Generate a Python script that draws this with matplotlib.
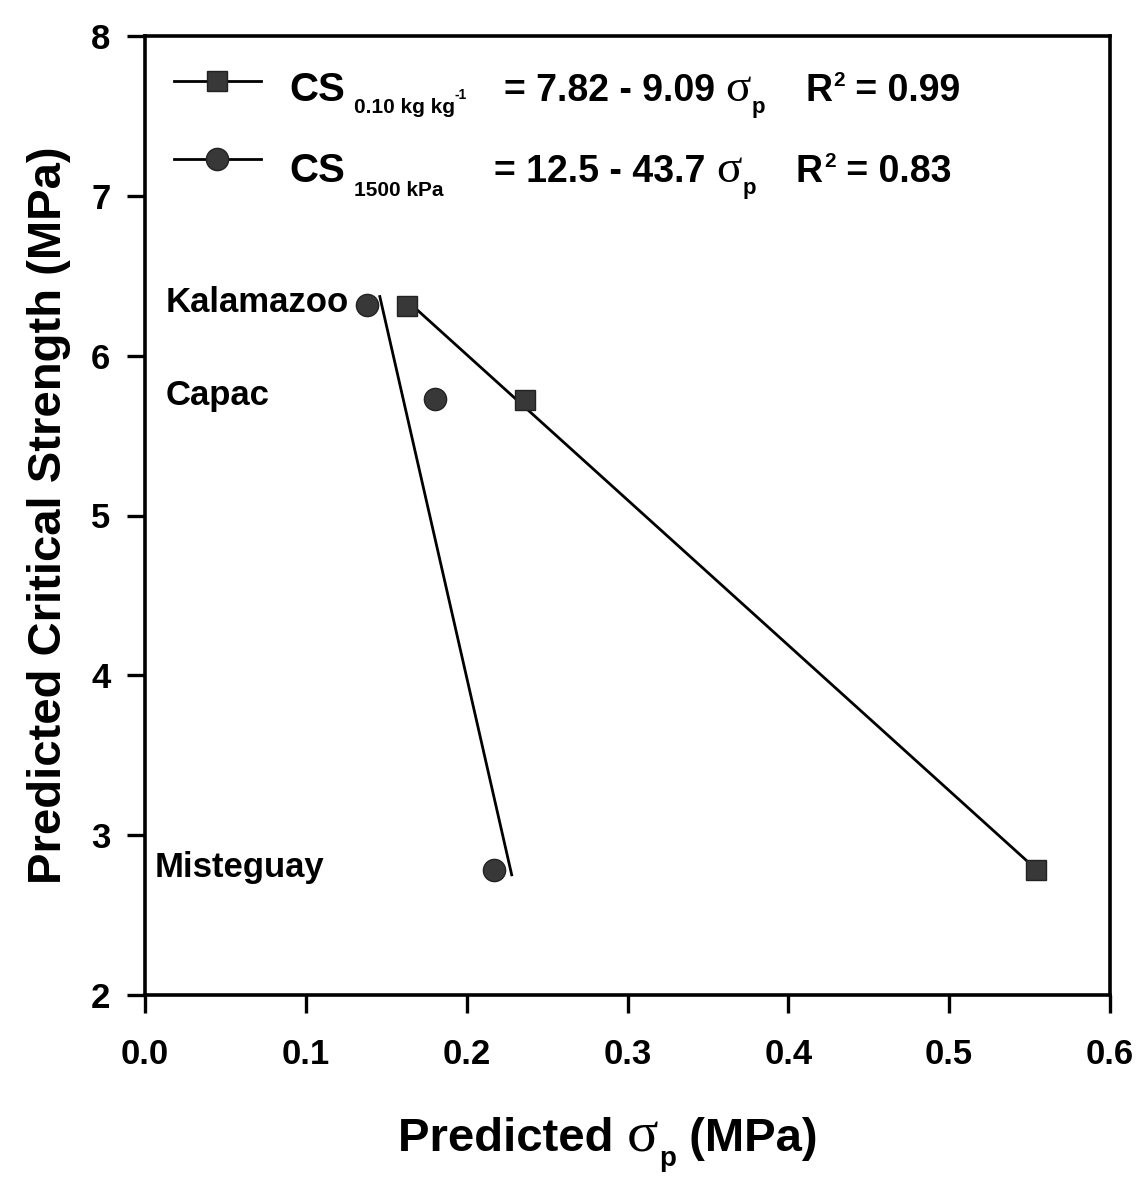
import numpy as np
import matplotlib
matplotlib.use("Agg")
import matplotlib.pyplot as plt
from matplotlib.lines import Line2D
from matplotlib.transforms import offset_copy

# ---- data ----
sites = ["Kalamazoo", "Capac", "Misteguay"]
sigma_010 = [0.163, 0.236, 0.554]      # predicted sigma_p, CS at 0.10 kg/kg
cs_010 = [6.31, 5.72, 2.78]
sigma_1500 = [0.138, 0.180, 0.217]     # predicted sigma_p, CS at 1500 kPa
cs_1500 = [6.32, 5.73, 2.78]
fit_range_010 = [0.163, 0.554]
fit_range_1500 = [0.146, 0.228]
x_ticks = [0.0, 0.1, 0.2, 0.3, 0.4, 0.5, 0.6]
y_ticks = [2, 3, 4, 5, 6, 7, 8]
eq1_sub = "0.10 kg kg"
eq1_coef = "= 7.82 - 9.09 "
eq1_r2 = "0.99"
eq2_sub = "1500 kPa"
eq2_coef = "= 12.5 - 43.7 "
eq2_r2 = "0.83"

SANS = ["Liberation Sans", "DejaVu Sans"]
SERIF = ["Liberation Serif", "DejaVu Serif"]
plt.rcParams["font.family"] = SANS
plt.rcParams["font.weight"] = "bold"

fig = plt.figure(figsize=(11.39, 11.87), dpi=100)
L, R, B, T = 145 / 1139, 1110 / 1139, 1 - 995 / 1187, 1 - 36 / 1187
ax = fig.add_axes([L, B, R - L, T - B])

mcol = "#383838"
c1 = np.polyfit(sigma_010, cs_010, 1)
xr = np.array(fit_range_010)
ax.plot(xr, np.polyval(c1, xr), color="black", lw=2.0, zorder=2)
c2 = np.polyfit(sigma_1500, cs_1500, 1)
xr2 = np.array(fit_range_1500)
ax.plot(xr2, np.polyval(c2, xr2), color="black", lw=2.0, zorder=2)

ax.plot(sigma_010, cs_010, ls="none", marker="s", ms=15, color=mcol,
        mec="#222222", zorder=3)
ax.plot(sigma_1500, cs_1500, ls="none", marker="o", ms=16, color=mcol,
        mec="#222222", zorder=3)

label_pos = [(0.013, 6.33), (0.013, 5.75), (0.006, 2.80)]
for name, (lx, ly) in zip(sites, label_pos):
    ax.text(lx, ly, name, fontsize=25, fontweight="bold",
            va="center", ha="left")

# legend drawn manually
for yy, mk, ms in [(0.953, "s", 15), (0.872, "o", 16)]:
    ax.add_line(Line2D([0.03, 0.12], [yy, yy], transform=ax.transAxes,
                       color="black", lw=2.0))
    ax.plot([0.075], [yy], transform=ax.transAxes, marker=mk, ms=ms,
            color=mcol, mec="#222222", ls="none", clip_on=False)

renderer = fig.canvas.get_renderer()


def run_text(x0, y0, pieces):
    """Place consecutive text pieces on a common baseline (axes fraction start)."""
    dx = 0.0
    for s, size, dy, fam, wt, gap in pieces:
        dx += gap
        tr = offset_copy(ax.transAxes, fig=fig, x=dx, y=dy, units="dots")
        t = ax.text(x0, y0, s, transform=tr, fontsize=size, family=fam,
                    fontweight=wt, va="baseline", ha="left")
        bb = t.get_window_extent(renderer=renderer)
        dx += bb.width


run_text(0.150, 0.932, [
    ("CS", 29, 0, SANS, "bold", 0),
    (eq1_sub, 15, -12, SANS, "bold", 8),
    ("-1", 10, 2, SANS, "bold", 0),
])
run_text(0.372, 0.932, [
    (eq1_coef, 27, 0, SANS, "bold", 0),
    ("σ", 34, 0, SERIF, "normal", 0),
    ("p", 16, -12, SANS, "bold", 1),
    ("R", 27, 0, SANS, "bold", 40),
    ("2", 15, 15, SANS, "bold", 1),
    (" = " + eq1_r2, 27, 0, SANS, "bold", 0),
])
run_text(0.150, 0.848, [
    ("CS", 29, 0, SANS, "bold", 0),
    (eq2_sub, 15, -14, SANS, "bold", 8),
])
run_text(0.362, 0.848, [
    (eq2_coef, 27, 0, SANS, "bold", 0),
    ("σ", 34, 0, SERIF, "normal", 0),
    ("p", 16, -12, SANS, "bold", 1),
    ("R", 27, 0, SANS, "bold", 40),
    ("2", 15, 15, SANS, "bold", 1),
    (" = " + eq2_r2, 27, 0, SANS, "bold", 0),
])

ax.set_xlim(0.0, 0.6)
ax.set_ylim(2, 8)
ax.set_xticks(x_ticks)
ax.set_xticklabels([f"{v:.1f}" for v in x_ticks])
ax.set_yticks(y_ticks)
ax.set_yticklabels([str(v) for v in y_ticks])
ax.tick_params(direction="out", length=13, width=2.4, labelsize=25)
ax.tick_params(axis="x", pad=18)
ax.tick_params(axis="y", pad=12)
for sp in ax.spines.values():
    sp.set_linewidth(2.6)

# x label with a serif sigma
xlab_pieces = [("Predicted ", 34, 0, SANS, "bold", 0),
               ("σ", 42, 0, SERIF, "normal", 0),
               ("p", 20, -15, SANS, "bold", 1),
               (" (MPa)", 34, 0, SANS, "bold", 0)]
run_text(0.262, -0.163, xlab_pieces)

ax.set_ylabel("Predicted Critical Strength (MPa)", fontsize=34,
              fontweight="bold", labelpad=14)

fig.savefig("out.png", dpi=100)
